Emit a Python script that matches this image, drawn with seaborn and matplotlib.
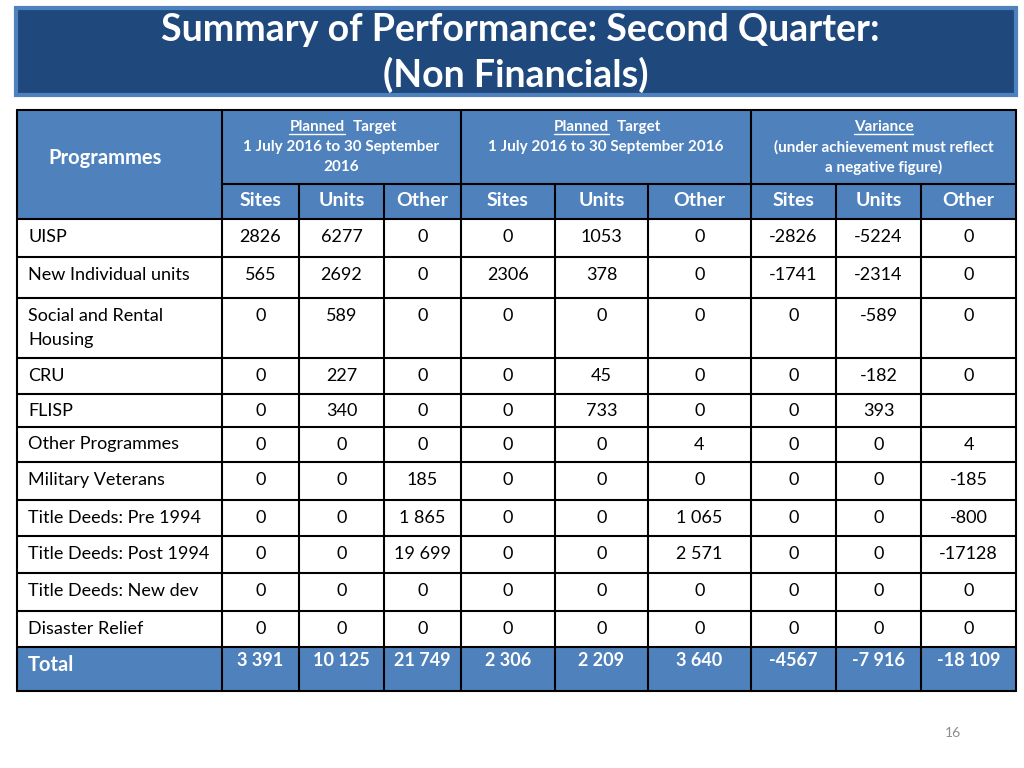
import matplotlib
matplotlib.use("Agg")
import matplotlib.pyplot as plt
from matplotlib.patches import Rectangle
import seaborn as sns

# ---------------- data ----------------
title_line1 = "Summary of Performance: Second Quarter:"
title_line2 = "(Non Financials)"

programmes = ["UISP", "New Individual units", "Social and Rental\nHousing", "CRU", "FLISP",
              "Other Programmes", "Military Veterans", "Title Deeds: Pre 1994",
              "Title Deeds: Post 1994", "Title Deeds: New dev", "Disaster Relief"]

target_sites = ["2826", "565", "0", "0", "0", "0", "0", "0", "0", "0", "0"]
target_units = ["6277", "2692", "589", "227", "340", "0", "0", "0", "0", "0", "0"]
target_other = ["0", "0", "0", "0", "0", "0", "185", "1 865", "19 699", "0", "0"]

actual_sites = ["0", "2306", "0", "0", "0", "0", "0", "0", "0", "0", "0"]
actual_units = ["1053", "378", "0", "45", "733", "0", "0", "0", "0", "0", "0"]
actual_other = ["0", "0", "0", "0", "0", "4", "0", "1 065", "2 571", "0", "0"]

variance_sites = ["-2826", "-1741", "0", "0", "0", "0", "0", "0", "0", "0", "0"]
variance_units = ["-5224", "-2314", "-589", "-182", "393", "0", "0", "0", "0", "0", "0"]
variance_other = ["0", "0", "0", "0", "", "4", "-185", "-800", "-17128", "0", "0"]

total_label = "Total"
totals = ["3 391", "10 125", "21 749", "2 306", "2 209", "3 640", "-4567", "-7 916", "-18 109"]

group_headers = [
    ("Planned", "Target", ["1 July 2016 to 30 September", "2016"]),
    ("Planned", "Target", ["1 July 2016 to 30 September 2016"]),
    ("Variance", None, ["(under achievement must reflect", "a negative figure)"]),
]
sub_headers = ["Sites", "Units", "Other"]
first_header = "Programmes"
page_number = "16"

# ---------------- style ----------------
sns.set_theme(style="white")
plt.rcParams['font.family'] = ['Lato', 'DejaVu Sans']

header_blue = "#4F81BD"
title_blue = "#1F497D"
line_col = "#000000"

fig = plt.figure(figsize=(10.24, 7.68), dpi=100)
ax = fig.add_axes([0, 0, 1, 1])
ax.set_xlim(0, 1024)
ax.set_ylim(768, 0)
ax.axis("off")

# title box
ax.add_patch(Rectangle((16, 8), 1000, 87, facecolor=title_blue, edgecolor=header_blue, lw=3))
ax.text(520, 30, title_line1, color="white", fontsize=27, fontweight="bold", ha="center", va="center")
ax.text(516, 75, title_line2, color="white", fontsize=27, fontweight="bold", ha="center", va="center")

# layout
col_edges = [17, 222, 299, 384, 461, 555, 648, 751, 836, 921, 1016]
head_top, head_mid, head_bot = 110, 184, 219
row_edges = [219, 257, 298, 358, 394, 427, 462, 500, 536, 573, 611, 647, 691]
lw = 1.5

# header fills
ax.add_patch(Rectangle((col_edges[0], head_top), col_edges[-1] - col_edges[0], head_bot - head_top,
                       facecolor=header_blue, edgecolor="none"))
# total row fill
ax.add_patch(Rectangle((col_edges[0], row_edges[-2]), col_edges[-1] - col_edges[0],
                       row_edges[-1] - row_edges[-2], facecolor=header_blue, edgecolor="none"))

# grid lines
ax.plot([col_edges[0], col_edges[-1]], [head_top, head_top], color=line_col, lw=lw)
ax.plot([col_edges[1], col_edges[-1]], [head_mid, head_mid], color=line_col, lw=lw)
for y in row_edges:
    ax.plot([col_edges[0], col_edges[-1]], [y, y], color=line_col, lw=lw)
for i, x in enumerate(col_edges):
    if i in (0, 1, 4, 7, 10):
        ax.plot([x, x], [head_top, row_edges[-1]], color=line_col, lw=lw)
    else:
        ax.plot([x, x], [head_mid, row_edges[-1]], color=line_col, lw=lw)

# header texts
ax.text(48, 158, first_header, color="white", fontsize=14.5, fontweight="bold", ha="left", va="center")
underlines = []
for g, (word, word2, lines) in enumerate(group_headers):
    x0, x1 = col_edges[1 + 3 * g], col_edges[4 + 3 * g]
    cx = (x0 + x1) / 2
    if word2:
        t1 = ax.text(cx + 3, 127, word, color="white", fontsize=11, fontweight="bold", ha="right", va="center")
        ax.text(cx + 11, 127, word2, color="white", fontsize=11, fontweight="bold", ha="left", va="center")
    else:
        t1 = ax.text(cx, 127, word, color="white", fontsize=11, fontweight="bold", ha="center", va="center")
    underlines.append(t1)
    for k, ln in enumerate(lines):
        ax.text(cx, 147 + 20 * k, ln, color="white", fontsize=11, fontweight="bold", ha="center", va="center")

for j in range(9):
    cx = (col_edges[1 + j] + col_edges[2 + j]) / 2
    ax.text(cx, 201, sub_headers[j % 3], color="white", fontsize=14, fontweight="bold",
            ha="center", va="center")

# body
columns = [target_sites, target_units, target_other,
           actual_sites, actual_units, actual_other,
           variance_sites, variance_units, variance_other]
for r, name in enumerate(programmes):
    top, bot = row_edges[r], row_edges[r + 1]
    ty = top + min((bot - top) / 2, 18)
    for k, part in enumerate(name.split("\n")):
        ax.text(28, ty + 24 * k, part, color="black", fontsize=13, ha="left", va="center")
    for j, col in enumerate(columns):
        cx = (col_edges[1 + j] + col_edges[2 + j]) / 2
        ax.text(cx, ty, col[r], color="black", fontsize=13, ha="center", va="center")

# total row
ax.text(28, 665, total_label, color="white", fontsize=14.5, fontweight="bold", ha="left", va="center")
for j, v in enumerate(totals):
    cx = (col_edges[1 + j] + col_edges[2 + j]) / 2
    ax.text(cx, 660, v, color="white", fontsize=13, fontweight="bold", ha="center", va="center")

# page number
ax.text(953, 733, page_number, color="#8C8C8C", fontsize=10, ha="center", va="center")

# underline words
fig.canvas.draw()
renderer = fig.canvas.get_renderer()
inv = ax.transData.inverted()
for t in underlines:
    bb = t.get_window_extent(renderer)
    (xa, ya), (xb, yb) = inv.transform([[bb.x0, bb.y0], [bb.x1, bb.y1]])
    ax.plot([xa, xb], [ya, ya], color="white", lw=1)

fig.savefig("out.png", dpi=100)
